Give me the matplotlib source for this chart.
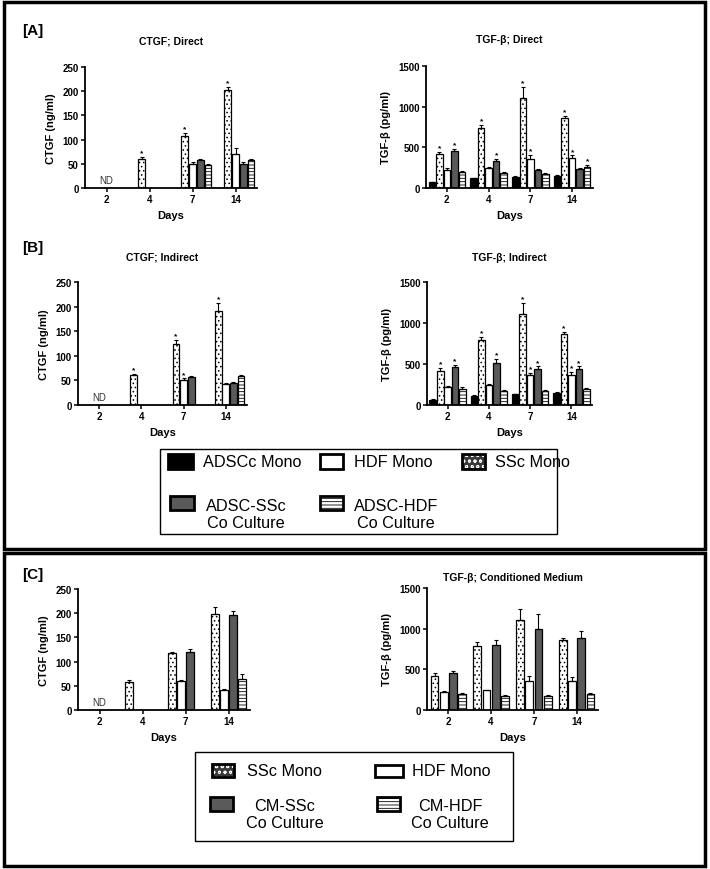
import numpy as np
import matplotlib.pyplot as plt
from matplotlib.patches import Rectangle

plt.rcParams['font.family'] = ['Liberation Sans', 'DejaVu Sans']
plt.rcParams['hatch.linewidth'] = 0.6

nan = np.nan
days = ['2', '4', '7', '14']

# bar order inside each day group
ab_names = ['ADSCc Mono', 'SSc Mono', 'HDF Mono', 'ADSC-SSc', 'ADSC-HDF']
c_names = ['SSc Mono', 'HDF Mono', 'CM-SSc', 'CM-HDF']

# [A] direct co-culture; rows follow ab_names
ctgf_direct = [[nan, nan, nan, nan],
               [nan, 60, 107, 203],
               [nan, nan, 50, 70],
               [nan, nan, 58, 50],
               [nan, nan, 47, 57]]
ctgf_direct_err = [[nan, nan, nan, nan],
                   [nan, 4, 7, 6],
                   [nan, nan, 3, 12],
                   [nan, nan, 2, 3],
                   [nan, nan, 3, 3]]
ctgf_direct_star = [[0, 0, 0, 0], [0, 1, 1, 1], [0, 0, 0, 0], [0, 0, 0, 0], [0, 0, 0, 0]]

tgf_direct = [[70, 120, 140, 150],
              [420, 740, 1110, 860],
              [220, 250, 360, 370],
              [450, 330, 220, 230],
              [200, 180, 170, 260]]
tgf_direct_err = [[8, 8, 8, 8],
                  [25, 30, 130, 30],
                  [20, 10, 50, 30],
                  [30, 30, 15, 15],
                  [15, 15, 15, 20]]
tgf_direct_star = [[0, 0, 0, 0], [1, 1, 1, 1], [0, 0, 1, 1], [1, 1, 0, 0], [0, 0, 0, 1]]

# [B] indirect co-culture
ctgf_indirect = [[nan, nan, nan, nan],
                 [nan, 60, 125, 192],
                 [nan, nan, 50, 42],
                 [nan, nan, 57, 45],
                 [nan, nan, nan, 58]]
ctgf_indirect_err = [[nan, nan, nan, nan],
                     [nan, 4, 8, 15],
                     [nan, nan, 4, 2],
                     [nan, nan, 2, 2],
                     [nan, nan, nan, 3]]
ctgf_indirect_star = [[0, 0, 0, 0], [0, 1, 1, 1], [0, 0, 1, 0], [0, 0, 0, 0], [0, 0, 0, 0]]

tgf_indirect = [[65, 110, 130, 150],
                [420, 790, 1110, 860],
                [220, 250, 360, 360],
                [460, 510, 440, 440],
                [200, 175, 175, 200]]
tgf_indirect_err = [[8, 8, 8, 8],
                    [30, 40, 130, 30],
                    [15, 10, 30, 40],
                    [25, 50, 30, 30],
                    [15, 10, 10, 10]]
tgf_indirect_star = [[0, 0, 0, 0], [1, 1, 1, 1], [0, 0, 1, 1], [1, 1, 1, 1], [0, 0, 0, 0]]

# [C] conditioned medium; rows follow c_names
ctgf_cm = [[nan, 58, 117, 198],
           [nan, nan, 60, 42],
           [nan, nan, 120, 196],
           [nan, nan, nan, 64]]
ctgf_cm_err = [[nan, 3, 3, 15],
               [nan, nan, 2, 2],
               [nan, nan, 6, 8],
               [nan, nan, nan, 10]]

tgf_cm = [[420, 790, 1110, 860],
          [220, 240, 360, 360],
          [460, 800, 1000, 890],
          [200, 175, 170, 200]]
tgf_cm_err = [[30, 40, 130, 20],
              [10, 10, 60, 50],
              [20, 60, 180, 80],
              [10, 10, 10, 10]]

style = {
    'ADSCc Mono': dict(facecolor='black'),
    'SSc Mono': dict(facecolor='white', hatch='....'),
    'HDF Mono': dict(facecolor='white'),
    'ADSC-SSc': dict(facecolor='#5a5a5a'),
    'ADSC-HDF': dict(facecolor='white', hatch='-----'),
    'CM-SSc': dict(facecolor='#5a5a5a'),
    'CM-HDF': dict(facecolor='white', hatch='-----'),
}

W, H = 710, 870
fig = plt.figure(figsize=(W / 100, H / 100), dpi=100)


def box(l, t, r, b):
    return [l / W, 1 - b / H, (r - l) / W, (b - t) / H]


def bars(ax, vals, errs, names, slot, width, ymax, ystep, ylabel,
         title=None, tpad=0, stars=None, nd=False):
    vals = np.array(vals, float)
    errs = np.nan_to_num(np.array(errs, float))
    x0 = np.arange(len(days))
    n = len(names)
    for i, nm in enumerate(names):
        x = x0 + (i - (n - 1) / 2) * slot
        ok = ~np.isnan(vals[i])
        ax.bar(x[ok], vals[i][ok], width, edgecolor='black', linewidth=0.9,
               zorder=2, **style[nm])
        e = errs[i][ok]
        ax.errorbar(x[ok], vals[i][ok], yerr=[np.zeros_like(e), e], fmt='none',
                    ecolor='black', elinewidth=0.8, capsize=1.5, capthick=0.8,
                    zorder=3)
        if stars is not None:
            for j in range(len(days)):
                if stars[i][j]:
                    ax.annotate('*', (x[j], vals[i][j] + errs[i][j]),
                                xytext=(0, 0.5), textcoords='offset points',
                                ha='center', va='bottom', fontsize=6,
                                fontweight='bold')
    ax.set_xlim(-0.5, 3.5)
    ax.set_ylim(0, ymax)
    ax.set_yticks(np.arange(0, ymax + 1, ystep))
    ax.set_xticks(x0, days)
    ax.spines[['top', 'right']].set_visible(False)
    ax.spines[['left', 'bottom']].set_linewidth(1.3)
    ax.tick_params(direction='out', length=3, width=1.1, labelsize=7, pad=1.5)
    for lbl in ax.get_xticklabels() + ax.get_yticklabels():
        lbl.set_fontweight('bold')
    ax.set_xlabel('Days', fontsize=8, fontweight='bold', labelpad=4)
    ax.set_ylabel(ylabel, fontsize=8, fontweight='bold', labelpad=5)
    if title:
        ax.set_title(title, fontsize=7.5, fontweight='bold', pad=tpad)
    if nd:
        ax.annotate('ND', (0, 0), xytext=(0, 2), textcoords='offset points',
                    ha='center', va='bottom', fontsize=7, color='#333333')


axA1 = fig.add_axes(box(85, 68, 257, 189))
bars(axA1, ctgf_direct, ctgf_direct_err, ab_names, 0.18, 0.16, 250, 50,
     'CTGF (ng/ml)', 'CTGF; Direct', 17, ctgf_direct_star, nd=True)
axA2 = fig.add_axes(box(426, 67, 593, 189))
bars(axA2, tgf_direct, tgf_direct_err, ab_names, 0.18, 0.16, 1500, 500,
     'TGF-β (pg/ml)', 'TGF-β; Direct', 17, tgf_direct_star)

axB1 = fig.add_axes(box(78, 283, 247, 406))
bars(axB1, ctgf_indirect, ctgf_indirect_err, ab_names, 0.18, 0.16, 250, 50,
     'CTGF (ng/ml)', 'CTGF; Indirect', 16, ctgf_indirect_star, nd=True)
axB2 = fig.add_axes(box(427, 283, 592, 406))
bars(axB2, tgf_indirect, tgf_indirect_err, ab_names, 0.18, 0.16, 1500, 500,
     'TGF-β (pg/ml)', 'TGF-β; Indirect', 16, tgf_indirect_star)

axC1 = fig.add_axes(box(78, 590, 250, 711))
bars(axC1, ctgf_cm, ctgf_cm_err, c_names, 0.215, 0.18, 250, 50,
     'CTGF (ng/ml)', nd=True)
axC2 = fig.add_axes(box(427, 589, 598, 711))
bars(axC2, tgf_cm, tgf_cm_err, c_names, 0.215, 0.18, 1500, 500,
     'TGF-β (pg/ml)', 'TGF-β; Conditioned Medium', 6)


def fx(px):
    return px / W


def fy(py):
    return 1 - py / H


def frame(l, t, r, b, lw):
    fig.add_artist(Rectangle((fx(l), fy(b)), fx(r) - fx(l), fy(t) - fy(b),
                             transform=fig.transFigure, fill=False,
                             edgecolor='black', linewidth=lw))


def key(l, t, r, b, name):
    st = style[name]
    if name == 'SSc Mono':
        fig.add_artist(Rectangle((fx(l), fy(b)), fx(r) - fx(l), fy(t) - fy(b),
                                 transform=fig.transFigure, facecolor='#3a3a3a',
                                 edgecolor='white', hatch='ooo', linewidth=0))
        st = dict(fill=False)
    fig.add_artist(Rectangle((fx(l), fy(b)), fx(r) - fx(l), fy(t) - fy(b),
                             transform=fig.transFigure, edgecolor='black',
                             linewidth=2, **st))


# outer panels
frame(4, 3, 705, 550, 2.5)
frame(4, 554, 705, 867, 2.5)

fig.text(fx(22), fy(31), '[A]', fontsize=11, fontweight='bold', va='center')
fig.text(fx(22), fy(248), '[B]', fontsize=11, fontweight='bold', va='center')
fig.text(fx(22), fy(575), '[C]', fontsize=11, fontweight='bold', va='center')

# legend for A and B
lf = 11.7
frame(160, 450, 557, 535, 1)
key(168, 455, 193, 470, 'ADSCc Mono')
fig.text(fx(203), fy(463), 'ADSCc Mono', fontsize=lf, va='center')
key(320, 455, 343, 470, 'HDF Mono')
fig.text(fx(354), fy(463), 'HDF Mono', fontsize=lf, va='center')
key(462, 455, 485, 470, 'SSc Mono')
fig.text(fx(495), fy(463), 'SSc Mono', fontsize=lf, va='center')
key(170, 497, 194, 511, 'ADSC-SSc')
fig.text(fx(246), fy(515), 'ADSC-SSc\nCo Culture', fontsize=lf, va='center',
         ha='center', multialignment='center', linespacing=1.15)
key(320, 497, 343, 511, 'ADSC-HDF')
fig.text(fx(396), fy(515), 'ADSC-HDF\nCo Culture', fontsize=lf, va='center',
         ha='center', multialignment='center', linespacing=1.15)

# legend for C
frame(195, 753, 513, 842, 1)
key(212, 765, 234, 778, 'SSc Mono')
fig.text(fx(247), fy(772), 'SSc Mono', fontsize=lf, va='center')
key(375, 766, 403, 778, 'HDF Mono')
fig.text(fx(412), fy(772), 'HDF Mono', fontsize=lf, va='center')
key(210, 798, 233, 812, 'CM-SSc')
fig.text(fx(285), fy(815), 'CM-SSc\nCo Culture', fontsize=lf, va='center',
         ha='center', multialignment='center', linespacing=1.15)
key(377, 798, 400, 812, 'CM-HDF')
fig.text(fx(450), fy(815), 'CM-HDF\nCo Culture', fontsize=lf, va='center',
         ha='center', multialignment='center', linespacing=1.15)

fig.savefig('out.png', dpi=100)
